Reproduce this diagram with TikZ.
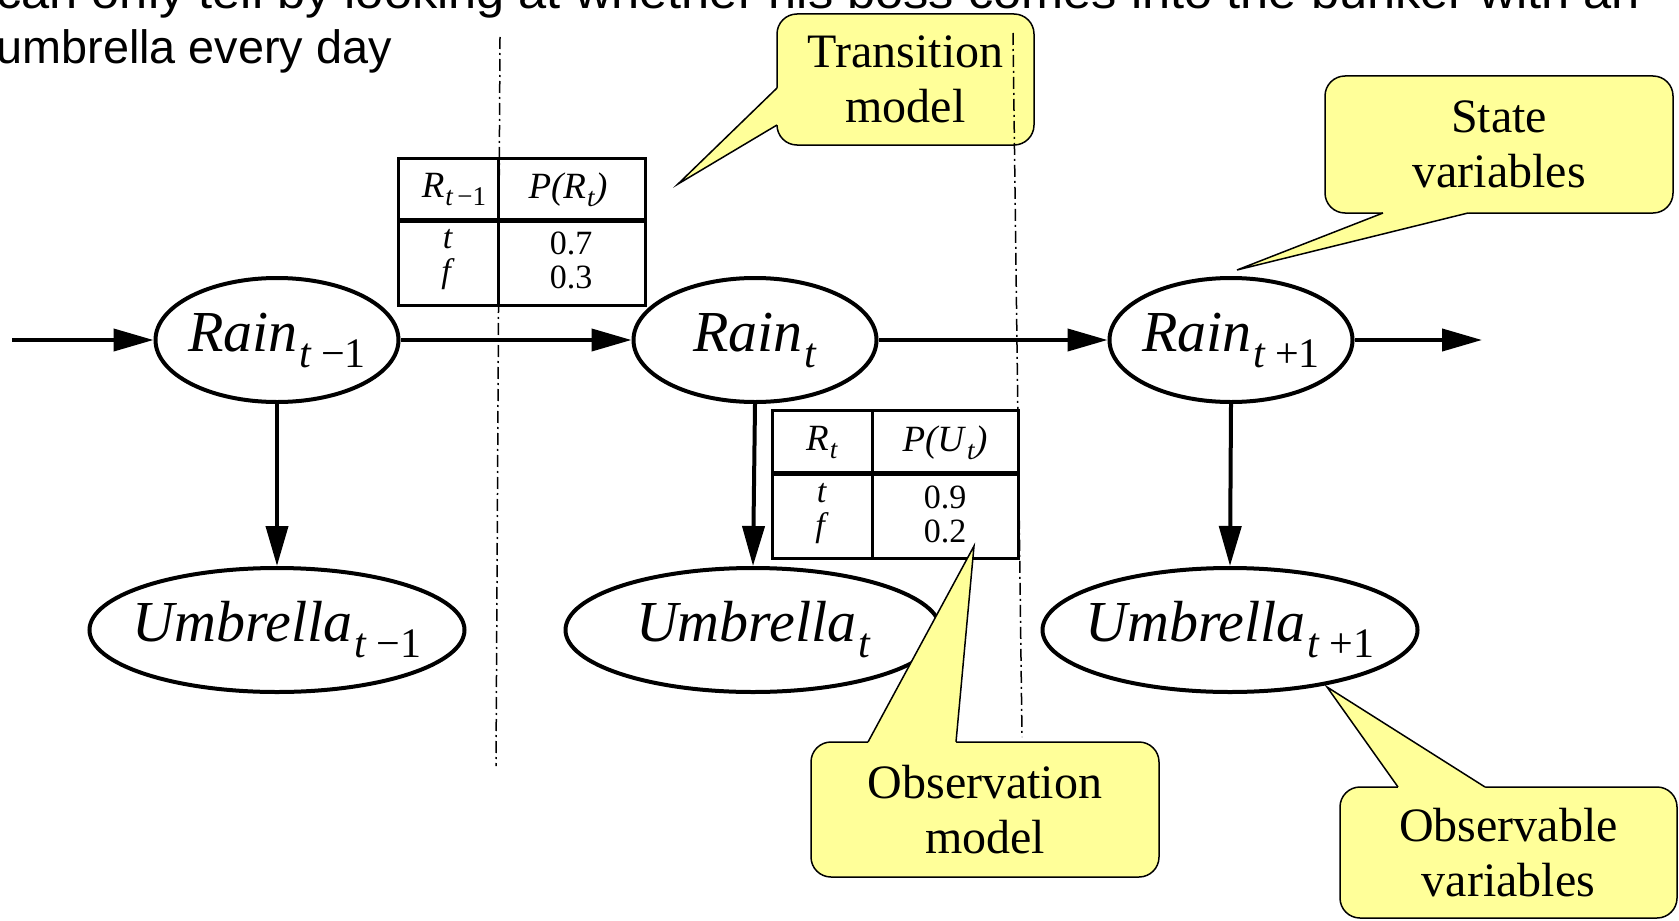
\documentclass[tikz,border=0pt]{standalone}
\usepackage{fontspec}
\setmainfont{Liberation Serif}
\newfontfamily\slidefont{Liberation Sans}
\usetikzlibrary{arrows.meta,shapes.geometric,calc}
\definecolor{notebg}{RGB}{255,255,153}

\newcommand{\nsub}[1]{\hspace{1pt}\raisebox{-8pt}{\fontsize{21}{21}\selectfont #1}}
\newcommand{\tsub}[1]{\hspace{0.5pt}\raisebox{-4pt}{\fontsize{13.5}{13.5}\selectfont #1}}

\tikzset{
  var/.style={ellipse, draw, line width=2pt, inner xsep=-40pt, inner ysep=-12pt, font=\fontsize{29}{29}\selectfont\itshape},
  rainvar/.style={var, minimum width=121.5pt, minimum height=62pt},
  umbvar/.style={var, minimum width=187.5pt, minimum height=62pt},
  link/.style={->, line width=2pt},
  callout/.style={draw, line width=0.75pt, fill=notebg, rounded corners=10pt, align=center, inner sep=0pt, font=\fontsize{24}{27.5}\selectfont},
  wedge/.style={line width=0.75pt},
  cpt/.style={inner sep=0pt, font=\fontsize{17}{17}\selectfont},
  chead/.style={inner sep=0pt, font=\fontsize{18.5}{18.5}\selectfont},
  slice/.style={line width=0.75pt, dash pattern=on 6pt off 2pt on 1pt off 2pt},
}

\begin{document}
\begin{tikzpicture}[x=0.5pt, y=-0.5pt, >={Triangle[length=20pt,width=11pt]}]

\useasboundingbox (0,0) rectangle (1679,920);
\clip (0,0) rectangle (1679,920);

\node[anchor=base west, inner sep=0pt, font=\slidefont\fontsize{23.4}{23.4}\selectfont] (head1) at (-4,9) {\scalebox{1.08}[1]{can only tell by looking at whether his boss comes into the bunker with an}};
\node[anchor=base west, inner sep=0pt, font=\slidefont\fontsize{23.4}{23.4}\selectfont] (head2) at (-4,64) {umbrella every day};

\draw[line width=1.5pt] (398,158) rectangle (645,305);
\draw[line width=1.5pt] (498,158) -- (498,305);
\draw[line width=2.5pt] (398,220) -- (645,220);
\node[chead] (ra) at (454,190) {\textit{R}\tsub{\textit{t}\hspace{2pt}−1}};
\node[chead] (pa) at (568,190) {\textit{P(R}\tsub{\textit{t}}\textit{)}};
\node[cpt, align=center] (va) at (448,260) {\textit{t}\\\textit{f}};
\node[cpt, align=center] (pva) at (571,260) {0.7\\0.3};

\draw[line width=1.5pt] (772,410) rectangle (1018,558);
\draw[line width=1.5pt] (872,410) -- (872,558);
\draw[line width=2.5pt] (772,473) -- (1018,473);
\node[chead] (rb) at (822,443) {\textit{R}\tsub{\textit{t}}};
\node[chead] (pb) at (945,443) {\textit{P(U}\tsub{\textit{t}}\textit{)}};
\node[cpt, align=center] (vb) at (822,514) {\textit{t}\\\textit{f}};
\node[cpt, align=center] (pvb) at (945,514) {0.9\\0.2};

\coordinate (in) at (12,340);
\coordinate (out) at (1482,340);
\node[rainvar] (r0) at (277,340) {Rain\nsub{t\hspace{5pt}\upshape −1}};
\node[rainvar] (r1) at (755,340) {Rain\nsub{t}};
\node[rainvar] (r2) at (1231,340) {Rain\nsub{t\hspace{5pt}\upshape +1}};
\node[umbvar] (u0) at (277,630) {Umbrella\nsub{t\hspace{5pt}\upshape −1}};
\node[umbvar] (u1) at (753,630) {Umbrella\nsub{t}};
\node[umbvar] (u2) at (1230,630) {Umbrella\nsub{t\hspace{5pt}\upshape +1}};

\draw[link] (in) -- (r0);
\draw[link] (r0) -- (r1);
\draw[link] (r1) -- (r2);
\draw[link] (r2) -- (out);
\draw[link] (r0) -- (u0);
\draw[link] (r1.south) -- (u1.north);
\draw[link] (r2.south) -- (u2.north);

\node[callout, minimum width=128.5pt, minimum height=65.5pt] (trans) at (905.5,79.5) {Transition\\model};
\coordinate (transtip) at (678,184);
\fill[notebg] (777,88) -- (transtip) -- (777,125) -- (781,125) -- (781,88) -- cycle;
\draw[wedge] (777,88) -- (transtip) -- (777,125);

\node[callout, minimum width=174pt, minimum height=68.5pt] (state) at (1499,144.5) {State\\variables};
\coordinate (statetip) at (1237,270);
\fill[notebg] (1383,213) -- (statetip) -- (1468,213) -- (1468,209) -- (1383,209) -- cycle;
\draw[wedge] (1383,213) -- (statetip) -- (1468,213);

\node[callout, minimum width=174pt, minimum height=67.5pt] (obs) at (985,809.5) {Observation\\model};
\coordinate (obstip) at (974,546);
\fill[notebg] (868,742) -- (obstip) -- (956,742) -- (956,746) -- (868,746) -- cycle;
\draw[wedge] (868,742) -- (obstip) -- (956,742);

\node[callout, minimum width=168.5pt, minimum height=65.5pt] (observ) at (1508.5,852.5) {Observable\\variables};
\coordinate (observtip) at (1327,687);
\fill[notebg] (1398,787) -- (observtip) -- (1485,787) -- (1485,791) -- (1398,791) -- cycle;
\draw[wedge] (1398,787) -- (observtip) -- (1485,787);

\draw[slice] (500,37) -- (496,766);
\draw[slice] (1013,33) -- (1022,737);

\end{tikzpicture}
\end{document}
